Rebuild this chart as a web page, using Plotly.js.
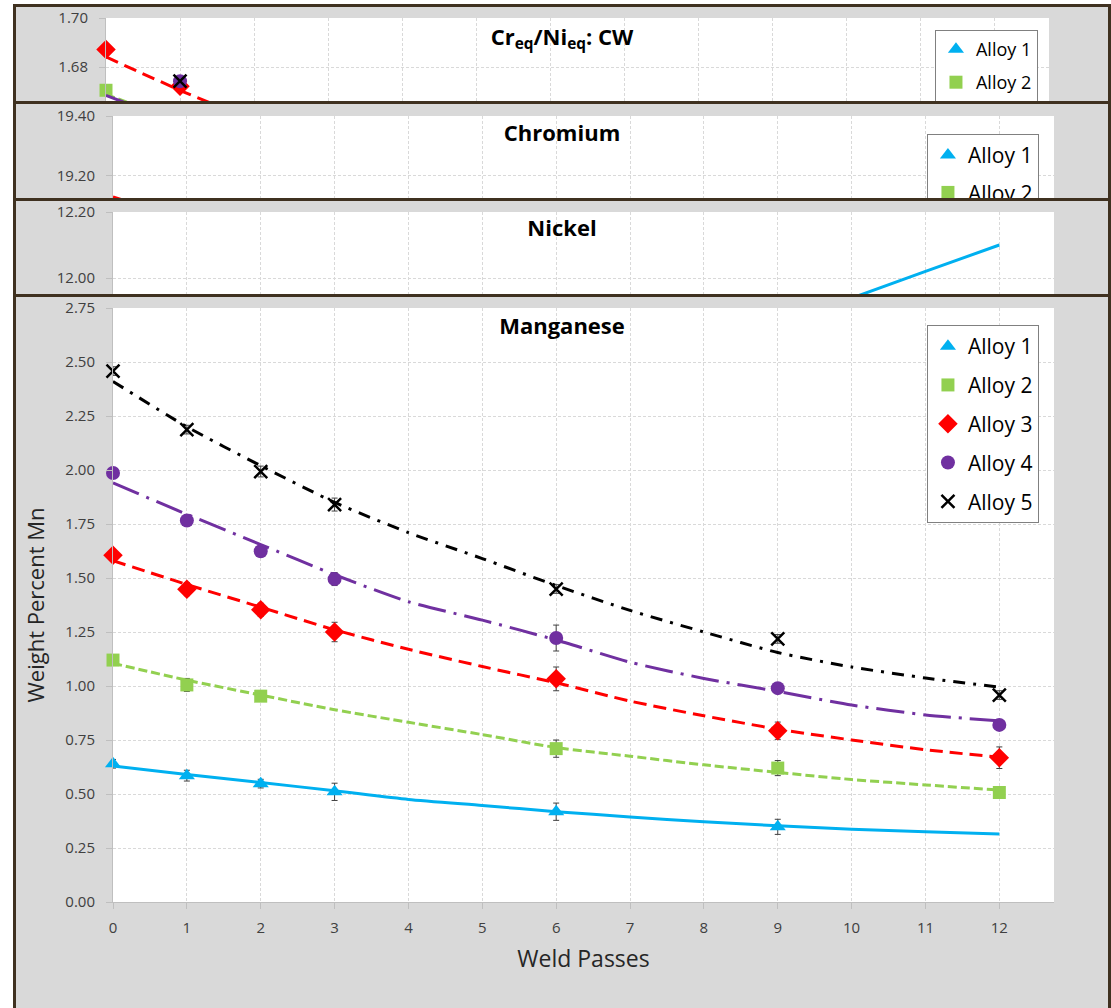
<!DOCTYPE html>
<html>
<head>
<meta charset="utf-8">
<script src="https://cdn.plot.ly/plotly-3.0.1.min.js"></script>
<style>
  body { margin: 0; background: #ffffff; width: 1111px; height: 1008px; overflow: hidden; position: relative; }
  .panel { position: absolute; left: 13px; width: 1098px; box-sizing: border-box;
           border: 3px solid #3f3120; border-bottom: none; overflow: hidden; background: #d9d9d9; }
  .plot { position: absolute; left: 0; top: 0; width: 1092px; height: 711px; }
</style>
</head>
<body>
<div class="panel" style="top:4px;height:97px"><div class="plot" id="crni"></div></div>
<div class="panel" style="top:101px;height:97px"><div class="plot" id="cr"></div></div>
<div class="panel" style="top:198px;height:96px"><div class="plot" id="ni"></div></div>
<div class="panel" style="top:294px;height:714px"><div class="plot" id="mn"></div></div>
<script>
// ---------- data ----------
const alloyNames = ['Alloy 1', 'Alloy 2', 'Alloy 3', 'Alloy 4', 'Alloy 5'];
const xTicks = [0, 1, 2, 3, 4, 5, 6, 7, 8, 9, 10, 11, 12];
const trendX = [0, 1, 2, 3, 4, 5, 6, 7, 8, 9, 10, 11, 12];

// Manganese measurements (weight percent) with error bars
const mnX1 = [0, 1, 2, 3, 6, 9];
const mnY1 = [0.64, 0.585, 0.548, 0.51, 0.418, 0.348];
const mnE1 = [0.02, 0.025, 0.02, 0.04, 0.04, 0.035];
const mnX2 = [0, 1, 2, 6, 9, 12];
const mnY2 = [1.12, 1.005, 0.953, 0.71, 0.62, 0.507];
const mnE2 = [0.015, 0.03, 0.015, 0.04, 0.035, 0.015];
const mnX3 = [0, 1, 2, 3, 6, 9, 12];
const mnY3 = [1.605, 1.448, 1.353, 1.25, 1.033, 0.793, 0.668];
const mnE3 = [0.015, 0.03, 0.03, 0.045, 0.055, 0.04, 0.05];
const mnX4 = [0, 1, 2, 3, 6, 9, 12];
const mnY4 = [1.986, 1.766, 1.624, 1.495, 1.222, 0.99, 0.82];
const mnE4 = [0.01, 0.015, 0.015, 0.03, 0.06, 0.025, 0.025];
const mnX5 = [0, 1, 2, 3, 6, 9, 12];
const mnY5 = [2.458, 2.187, 1.993, 1.84, 1.449, 1.218, 0.958];
const mnE5 = [0.02, 0.02, 0.025, 0.03, 0.02, 0.02, 0.02];

// Manganese trend lines (read at each weld pass)
const mnT1 = [0.63, 0.59, 0.553, 0.515, 0.475, 0.447, 0.418, 0.394, 0.371, 0.353, 0.337, 0.325, 0.315];
const mnT2 = [1.105, 1.027, 0.958, 0.89, 0.832, 0.775, 0.715, 0.675, 0.635, 0.6, 0.567, 0.542, 0.518];
const mnT3 = [1.58, 1.47, 1.365, 1.26, 1.17, 1.09, 1.015, 0.93, 0.862, 0.80, 0.75, 0.705, 0.67];
const mnT4 = [1.94, 1.795, 1.655, 1.515, 1.39, 1.305, 1.213, 1.11, 1.035, 0.975, 0.912, 0.866, 0.838];
const mnT5 = [2.41, 2.2, 2.02, 1.85, 1.71, 1.59, 1.465, 1.35, 1.25, 1.155, 1.088, 1.037, 0.995];

// Cr_eq/Ni_eq panel (only the visible top part)
const crniX2 = [0];  const crniY2 = [1.6705];
const crniX3 = [0, 1]; const crniY3 = [1.6871, 1.6721];
const crniX4 = [1];  const crniY4 = [1.6742];
const crniX5 = [1];  const crniY5 = [1.6742];
const crniTX = [0, 1, 2];
const crniT2 = [1.6688, 1.6578, 1.647];
const crniT3 = [1.6841, 1.6705, 1.658];
const crniT4 = [1.6684, 1.657, 1.646];
const crniTicks = [1.68, 1.70];

// Chromium panel (only the top of one trend reaches the view)
const crTX = [0, 1];
const crT3 = [19.13, 19.05];
const crTicks = [19.2, 19.4];

// Nickel panel (end of the Alloy 1 trend)
const niTX = [10, 11, 12];
const niT1 = [11.939, 12.02, 12.10];
const niTicks = [12.0, 12.2];

// entries with no point in view (legend only)
const noX = [null];
const noY = [null];

// ---------- styles ----------
const colors = ['#00b0f0', '#92d050', '#ff0000', '#7030a0', '#000000'];
const symbols = ['triangle-up', 'square', 'diamond', 'circle', 'x-thin'];
const msizes = [14, 13, 15, 14, 13];
const dashes = ['solid', '9px,4px', '13px,7px', '28px,8px,3px,8px', '12px,8px,3px,8px'];

function markerTrace(i, x, y, err, legend) {
  const t = {
    type: 'scatter', mode: 'markers', x: x, y: y, name: alloyNames[i],
    legendgroup: 'g' + i, showlegend: legend, cliponaxis: false,
    marker: { symbol: symbols[i], size: msizes[i], color: colors[i],
              line: i === 4 ? { color: '#000', width: 2.5 } : { width: 0 } }
  };
  if (err) t.error_y = { type: 'data', array: err, visible: true, color: '#404040', thickness: 1, width: 3 };
  return t;
}
function trendTrace(i, x, y) {
  return { type: 'scatter', mode: 'lines', x: x, y: y, showlegend: false, hoverinfo: 'skip',
           line: { color: colors[i], width: 3, dash: dashes[i], shape: 'spline', smoothing: 0.6 } };
}

function layoutFor(o) {
  const lay = {
    width: 1092, height: 711,
    margin: { l: o.l, r: o.r, t: o.t, b: 106, pad: 0 },
    paper_bgcolor: '#d9d9d9', plot_bgcolor: '#ffffff',
    font: { family: '"Open Sans", sans-serif', color: '#404040', size: 15 },
    title: { text: o.title, font: { size: 22, color: '#000000' }, x: 0.5, xref: 'container', xanchor: 'center',
             y: o.ty, yref: 'container', yanchor: 'middle' },
    xaxis: { range: [0, 12.74], tickvals: xTicks, showgrid: true, gridcolor: '#d9d9d9', griddash: '3px,2px',
             showline: true, linecolor: '#bfbfbf', linewidth: 1, ticks: 'outside', ticklen: 6, tickcolor: '#bfbfbf',
             zeroline: false, tickfont: { size: 15, color: '#404040' }, ticklabelstandoff: 6,
             showticklabels: !!o.xtitle },
    yaxis: { range: o.yr, tickformat: '.2f', showgrid: true, gridcolor: '#d9d9d9', griddash: '3px,2px',
             showline: true, linecolor: '#bfbfbf', linewidth: 1, ticks: 'outside', ticklen: 6, tickcolor: '#bfbfbf',
             zeroline: false, tickfont: { size: 15, color: '#404040' }, ticklabelstandoff: 8 },
    showlegend: o.legend !== false,
    hovermode: false
  };
  if (o.yticks) lay.yaxis.tickvals = o.yticks; else { lay.yaxis.dtick = o.dtick; lay.yaxis.tick0 = 0; }
  if (o.xtitle) lay.xaxis.title = { text: o.xtitle, font: { size: 23, color: '#262626' }, standoff: 14 };
  if (o.ytitle) lay.yaxis.title = { text: o.ytitle, font: { size: 22, color: '#262626' }, standoff: 14 };
  if (o.legend !== false) {
    lay.legend = { x: o.lx, xanchor: 'right', y: o.ly, yanchor: 'top', bgcolor: '#ffffff', bordercolor: '#808080',
      borderwidth: 1, font: { size: o.lf, color: '#000000' }, traceorder: 'grouped', tracegroupgap: o.lg, itemclick: false };
  }
  return lay;
}
const cfg = { staticPlot: true, displayModeBar: false };

// Cr_eq/Ni_eq
Plotly.newPlot('crni', [
  markerTrace(0, noX, noY, null, true),
  markerTrace(1, crniX2, crniY2, null, true),
  markerTrace(2, crniX3, crniY3, null, true),
  markerTrace(3, crniX4, crniY4, null, true),
  markerTrace(4, crniX5, crniY5, null, true),
  trendTrace(1, crniTX, crniT2),
  trendTrace(3, crniTX, crniT4),
  trendTrace(2, crniTX, crniT3)
], layoutFor({ l: 90, r: 59, t: 11, yr: [1.70 - 594 / 2450, 1.70], yticks: crniTicks,
  title: '<b>Cr<sub>eq</sub>/Ni<sub>eq</sub>: CW</b>', ty: 0.958, lx: 0.9883, ly: 0.9798, lf: 18, lg: 6.6 }), cfg);

// Chromium
Plotly.newPlot('cr', [
  markerTrace(0, noX, noY, null, true),
  markerTrace(1, noX, noY, null, true),
  markerTrace(2, noX, noY, null, true),
  markerTrace(3, noX, noY, null, true),
  markerTrace(4, noX, noY, null, true),
  trendTrace(2, crTX, crT3)
], layoutFor({ l: 97, r: 54, t: 12, yr: [19.40 - 594 / 300, 19.40], yticks: crTicks,
  title: '<b>Chromium</b>', ty: 0.959, lx: 0.984, ly: 0.9697, lf: 21, lg: 7 }), cfg);

// Nickel
Plotly.newPlot('ni', [
  trendTrace(0, niTX, niT1)
], layoutFor({ l: 97, r: 54, t: 11, yr: [12.20 - 594 / 330, 12.20], yticks: niTicks,
  title: '<b>Nickel</b>', ty: 0.962, legend: false }), cfg);

// Manganese
Plotly.newPlot('mn', [
  markerTrace(0, mnX1, mnY1, mnE1, true),
  markerTrace(1, mnX2, mnY2, mnE2, true),
  markerTrace(2, mnX3, mnY3, mnE3, true),
  markerTrace(3, mnX4, mnY4, mnE4, true),
  markerTrace(4, mnX5, mnY5, mnE5, true),
  trendTrace(0, trendX, mnT1),
  trendTrace(1, trendX, mnT2),
  trendTrace(2, trendX, mnT3),
  trendTrace(3, trendX, mnT4),
  trendTrace(4, trendX, mnT5)
], layoutFor({ l: 97, r: 54, t: 11, yr: [0, 2.75], dtick: 0.25,
  title: '<b>Manganese</b>', ty: 0.959, lx: 0.984, ly: 0.9714, lf: 21, lg: 8.5,
  xtitle: 'Weld Passes', ytitle: 'Weight Percent Mn' }), cfg);
</script>
</body>
</html>
